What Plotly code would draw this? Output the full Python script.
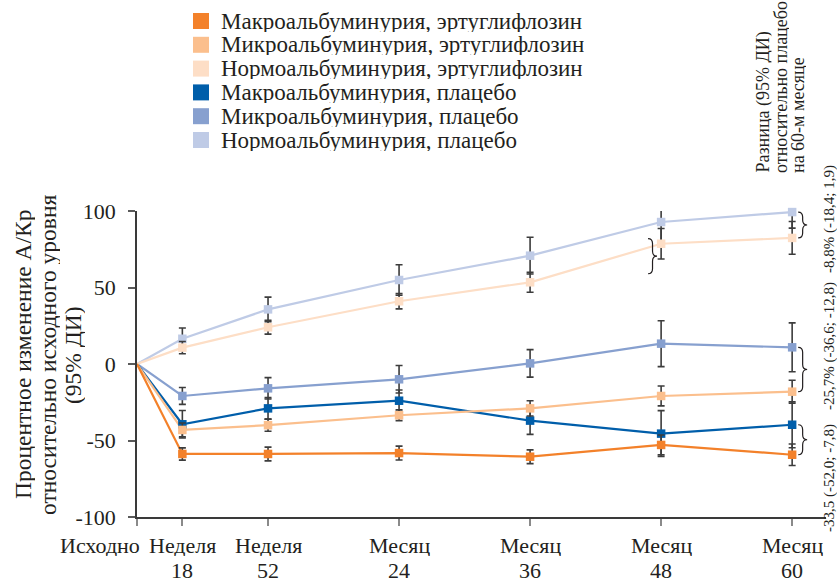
import plotly.graph_objects as go

# ---------------------------------------------------------------- data
# time points in months (week 18 and week 52 converted to months)
timepoints = [0, 18 * 12 / 52, 12, 24, 36, 48, 60]
tick_labels = ["", "Неделя<br>18", "Неделя<br>52", "Месяц<br>24",
               "Месяц<br>36", "Месяц<br>48", "Месяц<br>60"]
baseline_label = "Исходно"

y_ticks = [-100, -50, 0, 50, 100]
y_tick_labels = ["-100", "-50", "0", "50", "100"]

series_names = [
    "Макроальбуминурия, эртуглифлозин",
    "Микроальбуминурия, эртуглифлозин",
    "Нормоальбуминурия, эртуглифлозин",
    "Макроальбуминурия, плацебо",
    "Микроальбуминурия, плацебо",
    "Нормоальбуминурия, плацебо",
]
series_colors = ["#F3812A", "#FBBF8D", "#FDDEC6", "#005EAA", "#87A0CF", "#BFCBE6"]

# percent change from baseline, and half-width of the 95% CI (no CI at baseline)
macro_ertu = [0, -58.8, -58.8, -58.2, -60.6, -52.9, -59.3]
macro_ertu_ci = [4.0, 4.5, 4.5, 4.5, 6.5, 7.0]
micro_ertu = [0, -43.1, -40.0, -33.5, -29.0, -20.9, -18.1]
micro_ertu_ci = [4.5, 4.0, 3.5, 5.0, 6.5, 7.5]
normo_ertu = [0, 10.7, 24.0, 41.0, 53.4, 78.6, 82.4]
normo_ertu_ci = [4.0, 4.5, 5.0, 6.5, 10.0, 10.7]
macro_plac = [0, -39.4, -29.0, -24.0, -37.0, -45.5, -39.7]
macro_plac_ci = [9.0, 7.0, 7.0, 9.0, 15.0, 15.0]
micro_plac = [0, -20.9, -15.9, -10.0, 0.4, 13.3, 10.9]
micro_plac_ci = [5.5, 7.0, 9.0, 9.0, 15.0, 16.0]
normo_plac = [0, 16.5, 35.7, 54.9, 70.8, 92.8, 99.3]
normo_plac_ci = [7.0, 8.0, 10.0, 12.0, 16.5, 10.5]

values = [macro_ertu, micro_ertu, normo_ertu, macro_plac, micro_plac, normo_plac]
cis = [macro_ertu_ci, micro_ertu_ci, normo_ertu_ci, macro_plac_ci, micro_plac_ci, normo_plac_ci]

# differences vs placebo at month 60: (text, ertugliflozin series, placebo series)
differences = [
    ("-8,8% (-18,4; 1,9)", 2, 5),
    ("-25,7% (-36,6; -12,8)", 1, 4),
    ("-33,5 (-52,0; -7,8)", 0, 3),
]
difference_title = ["Разница (95% ДИ)", "относительно плацебо", "на 60-м месяце"]
y_title = ["Процентное изменение А/Кр", "относительно исходного уровня", "(95% ДИ)"]

# extra brace drawn at month 48 (month, top, bottom)
extra_braces = [(46.8, 82.0, 59.0)]

# ---------------------------------------------------------------- layout helpers
FONT = "Liberation Serif, Times New Roman, serif"
TEXT = "#231F20"
W, H = 839, 583
PL, PR, PT, PB = 137, 826, 211, 517
X_RANGE = [0, 63.1]
Y_RANGE = [-100, 100]
PX_PER_MONTH = (PR - PL) / (X_RANGE[1] - X_RANGE[0])
PX_PER_UNIT = (PB - PT) / (Y_RANGE[1] - Y_RANGE[0])


def px_x(p):
    return (p - PL) / (PR - PL)


def px_y(p):
    return (PB - p) / (PB - PT)


def brace_path(x0, y_top, y_bot, width_px=9, curl_px=5):
    w = width_px / PX_PER_MONTH
    d = curl_px / PX_PER_UNIT
    xm = x0 + w / 2
    xt = x0 + w
    ym = (y_top + y_bot) / 2
    return (f"M {x0},{y_top} Q {xm},{y_top} {xm},{y_top - d} "
            f"L {xm},{ym + d} Q {xm},{ym} {xt},{ym} "
            f"Q {xm},{ym} {xm},{ym - d} "
            f"L {xm},{y_bot + d} Q {xm},{y_bot} {x0},{y_bot}")


def text_note(text, x, y, size, xanchor="center", yanchor="middle",
              angle=0, xref="paper", height=None):
    note = dict(xref=xref, yref="paper", x=x, y=y, xanchor=xanchor,
                yanchor=yanchor, showarrow=False, textangle=angle, text=text,
                borderpad=0, font=dict(family=FONT, size=size, color=TEXT))
    if height is not None:
        note["height"] = height
    return note


fig = go.Figure()

# draw placebo first, ertugliflozin on top
order = [5, 4, 3, 2, 1, 0]
for i in order:
    fig.add_trace(go.Scatter(
        x=timepoints, y=values[i], mode="lines",
        line=dict(color=series_colors[i], width=2.2),
        showlegend=False, hoverinfo="skip",
    ))
for i in order:
    fig.add_trace(go.Scatter(
        x=timepoints[1:], y=values[i][1:], mode="markers",
        name=series_names[i],
        marker=dict(symbol="square", size=8.5, color=series_colors[i]),
        error_y=dict(type="data", array=cis[i], visible=True,
                     color="#3C3C3C", thickness=1.6, width=3.5),
        cliponaxis=False, showlegend=False,
    ))

shapes = []
annotations = []

# legend: colour swatches with labels
for k, (name, color) in enumerate(zip(series_names, series_colors)):
    yc = 21 + 23.8 * k
    shapes.append(dict(type="rect", xref="paper", yref="paper",
                       x0=px_x(193), x1=px_x(209), y0=px_y(yc + 8), y1=px_y(yc - 8),
                       fillcolor=color, line=dict(width=0)))
    annotations.append(text_note(name, px_x(220), px_y(yc), 23,
                                 xanchor="left", height=21))

# braces at month 60 joining each ertugliflozin / placebo pair
x_brace = 60 + 6 / PX_PER_MONTH
for _, ie, ip in differences:
    top = max(values[ie][-1], values[ip][-1])
    bot = min(values[ie][-1], values[ip][-1])
    shapes.append(dict(type="path", xref="x", yref="y",
                       path=brace_path(x_brace, top, bot),
                       line=dict(color=TEXT, width=1.2)))
for xb, top, bot in extra_braces:
    shapes.append(dict(type="path", xref="x", yref="y",
                       path=brace_path(xb, top, bot),
                       line=dict(color=TEXT, width=1.2)))

# difference values (rotated) on the right
for (text, _, _), yc in zip(differences, [219, 346, 478]):
    annotations.append(text_note(text, px_x(829), px_y(yc), 15, angle=-90,
                                 height=15))

# heading of the difference column
for line, xc in zip(difference_title, [763, 780, 797]):
    annotations.append(text_note(line, px_x(xc), px_y(174), 18,
                                 yanchor="bottom", angle=-90, height=17))

# y-axis title
for line, xc in zip(y_title, [23, 48, 73]):
    annotations.append(text_note(line, px_x(xc), px_y(355), 23.5, angle=-90,
                                 height=24))

# x tick labels, two lines each
for t, lab in zip(timepoints, tick_labels):
    if not lab:
        continue
    first, second = lab.split("<br>")
    annotations.append(text_note(first, t, px_y(545), 22, xref="x", height=21))
    annotations.append(text_note(second, t, px_y(570), 22, xref="x", height=21))

# baseline label left of the first tick
annotations.append(text_note(baseline_label, px_x(141), px_y(545), 22,
                             xanchor="right", height=21))

fig.update_layout(
    width=W, height=H,
    margin=dict(l=PL, r=W - PR, t=PT, b=H - PB, pad=0),
    paper_bgcolor="white", plot_bgcolor="white",
    font=dict(family=FONT, size=22, color=TEXT),
    showlegend=False,
    shapes=shapes, annotations=annotations,
    xaxis=dict(range=X_RANGE, tickvals=timepoints, showticklabels=False,
               showgrid=False, zeroline=False, showline=True,
               linecolor="#3A3A3A", linewidth=1.6,
               ticks="outside", ticklen=7, tickwidth=2, tickcolor="#8A8A8A"),
    yaxis=dict(range=Y_RANGE, tickvals=y_ticks, ticktext=y_tick_labels,
               showgrid=False, zeroline=False, showline=True,
               linecolor="#3A3A3A", linewidth=1.6,
               ticks="outside", ticklen=7, tickwidth=1.6, tickcolor="#5A5A5A",
               ticklabelstandoff=8,
               tickfont=dict(family=FONT, size=22, color=TEXT)),
)

fig.write_html("out.html")
